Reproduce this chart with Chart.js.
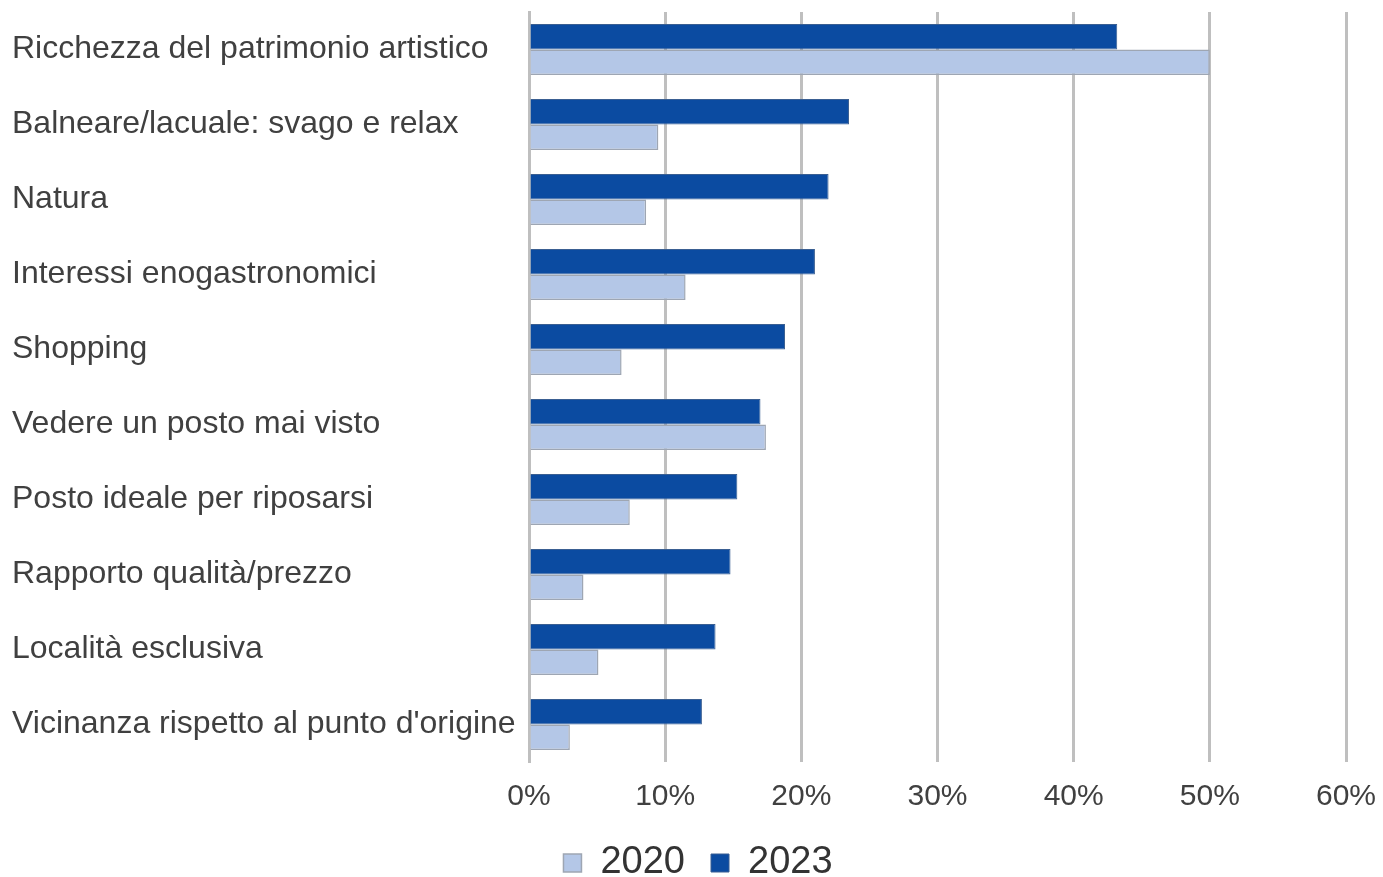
<!DOCTYPE html>
<html lang="it">
<head>
<meta charset="utf-8">
<title>Motivazioni della vacanza 2020 vs 2023</title>
<script src="https://cdn.jsdelivr.net/npm/chart.js@4.4.1/dist/chart.umd.min.js"></script>
<style>
    html, body { margin: 0; padding: 0; background: #ffffff; }
    #wrap { width: 1383px; height: 877px; position: relative; }
</style>
</head>
<body>
<div id="wrap"><canvas id="motivesChart"></canvas></div>
<script>
// Data (percent)
const categories = [
    'Ricchezza del patrimonio artistico',
    'Balneare/lacuale: svago e relax',
    'Natura',
    'Interessi enogastronomici',
    'Shopping',
    'Vedere un posto mai visto',
    'Posto ideale per riposarsi',
    'Rapporto qualità/prezzo',
    'Località esclusiva',
    'Vicinanza rispetto al punto d\'origine'
];
const values2023 = [43.2, 23.5, 22.0, 21.0, 18.8, 17.0, 15.3, 14.8, 13.7, 12.7];
const values2020 = [50.0, 9.5, 8.6, 11.5, 6.8, 17.4, 7.4, 4.0, 5.1, 3.0];
const tickValues = [0, 10, 20, 30, 40, 50, 60];

const textColor = '#404040';

// Nudge the legend a bit to the right, like in the original picture
const legendShift = {
    id: 'legendShift',
    afterLayout(chart) {
        if (chart.legend) {
            chart.legend.left += 19;
            chart.legend.right += 19;
        }
    }
};

new Chart(document.getElementById('motivesChart'), {
    type: 'bar',
    data: {
        labels: categories,
        datasets: [
            {
                label: '2023',
                data: values2023,
                backgroundColor: '#0b4ba1',
                borderColor: '#3a5f92',
                borderWidth: 1
            },
            {
                label: '2020',
                data: values2020,
                backgroundColor: '#b4c7e7',
                borderColor: '#9ea6b3',
                borderWidth: 1.5
            }
        ]
    },
    options: {
        indexAxis: 'y',
        responsive: true,
        maintainAspectRatio: false,
        animation: false,
        layout: { padding: { left: 12, right: 37, top: 12, bottom: -15 } },
        datasets: {
            bar: { categoryPercentage: 0.68, barPercentage: 1.0 }
        },
        scales: {
            x: {
                min: 0,
                max: 60,
                afterBuildTicks: (axis) => {
                    axis.ticks = tickValues.map(v => ({ value: v }));
                },
                afterFit: (axis) => {
                    axis.height = 56;
                    axis.paddingLeft = 0;
                    axis.paddingRight = 0;
                },
                grid: { color: '#bfbfbf', lineWidth: 3, drawTicks: false },
                border: { display: false },
                ticks: {
                    color: textColor,
                    padding: 17,
                    font: { family: 'Liberation Sans', size: 30 },
                    callback: (v) => v + '%'
                }
            },
            y: {
                grid: { display: false },
                border: { display: true, color: '#bfbfbf', width: 3 },
                afterFit: (axis) => {
                    axis.width = 517;
                    axis.paddingTop = 0;
                    axis.paddingBottom = 0;
                },
                ticks: {
                    color: textColor,
                    crossAlign: 'far',
                    padding: 0,
                    font: { family: 'Liberation Sans', size: 32 }
                }
            }
        },
        plugins: {
            tooltip: { enabled: false },
            legend: {
                position: 'bottom',
                reverse: true,
                labels: {
                    color: '#333333',
                    boxWidth: 18,
                    boxHeight: 18,
                    padding: 26,
                    font: { family: 'Liberation Sans', size: 38 }
                }
            }
        }
    },
    plugins: [legendShift]
});
</script>
</body>
</html>
